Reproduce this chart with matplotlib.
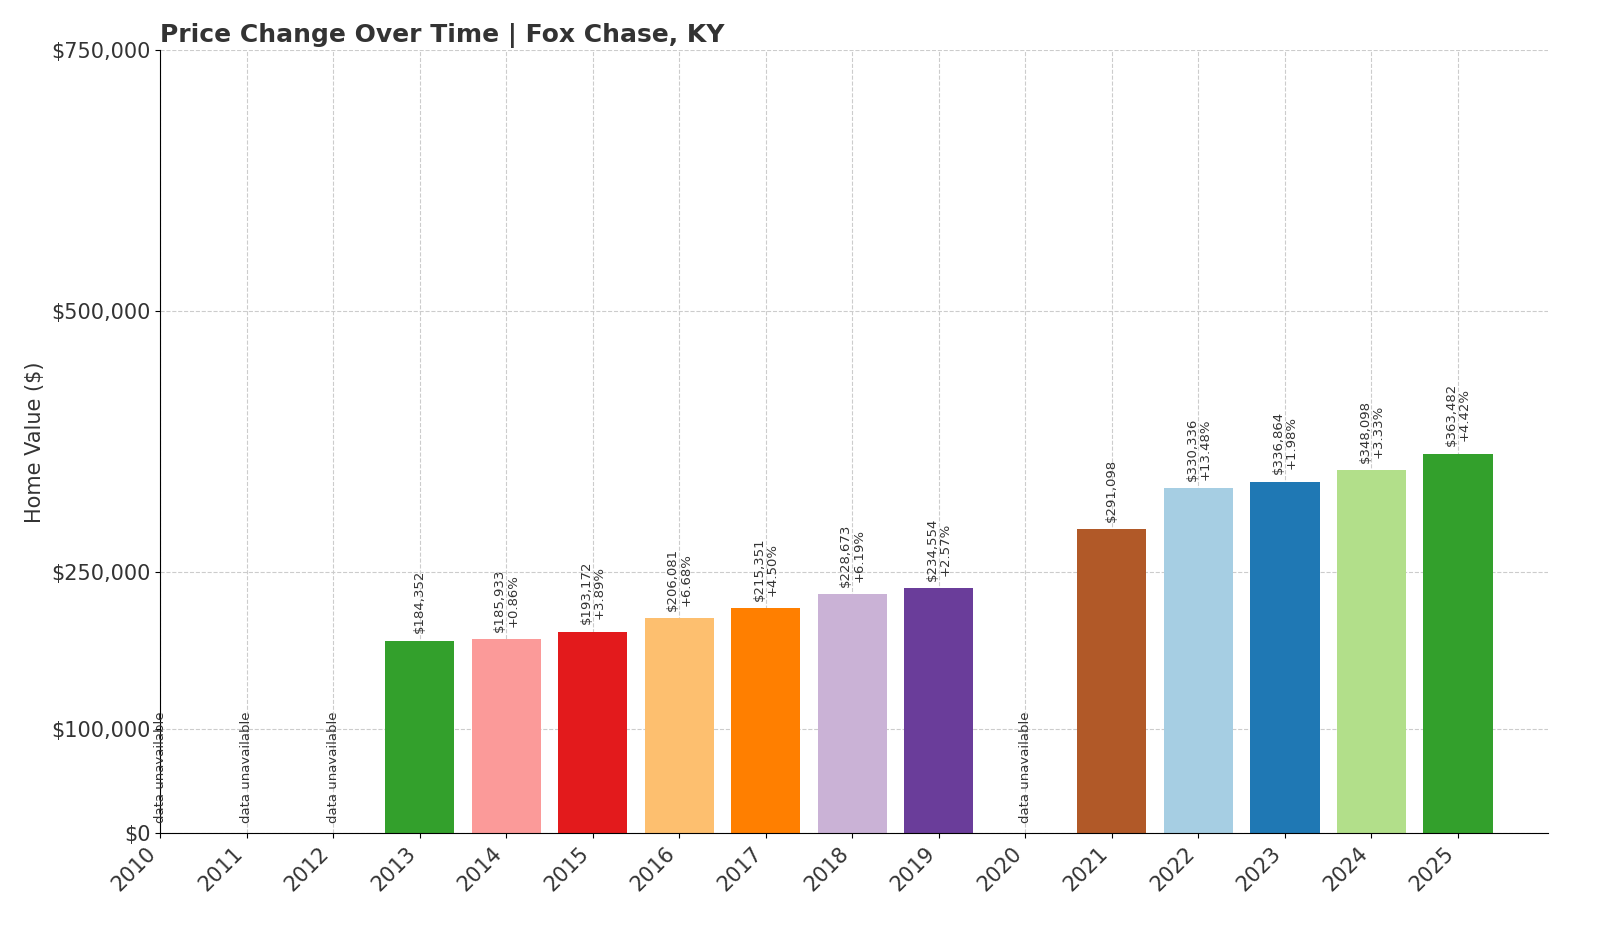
import matplotlib
matplotlib.use("Agg")
import matplotlib.pyplot as plt
import numpy as np

years = list(range(2010, 2026))
values = [None, None, None, 184352, 185933, 193172, 206081, 215351, 228673, 234554,
          None, 291098, 330336, 336864, 348098, 363482]
changes = [None, None, None, None, "+0.86%", "+3.89%", "+6.68%", "+4.50%", "+6.19%", "+2.57%",
           None, None, "+13.48%", "+1.98%", "+3.33%", "+4.42%"]
yticks = [0, 100000, 250000, 500000, 750000]

paired = plt.get_cmap("Paired").colors
fig = plt.figure(figsize=(16, 9.33), dpi=100)
ax = fig.add_axes([0.1, 0.107, 0.8675, 0.839])
for i, (y, v, c) in enumerate(zip(years, values, changes)):
    if v is None:
        ax.text(i, 10000, "data unavailable", rotation=90, ha="center", va="bottom",
                fontsize=9.5, color="#333333")
        continue
    ax.bar(i, v, width=0.8, color=paired[i % 12], zorder=2)
    lbl = f"${v:,}" + (f"\n{c}" if c else "")
    ax.text(i, v + 7000, lbl, rotation=90, ha="center", va="bottom", fontsize=9.5,
            color="#333333", linespacing=1.0)
ax.set_xlim(0, 16.04)
ax.set_ylim(0, 750000)
ax.set_xticks(range(len(years)))
ax.set_xticklabels([str(y) for y in years], rotation=45, ha="right", fontsize=15,
                   color="#333333")
ax.set_yticks(yticks)
ax.set_yticklabels([f"${t:,}" for t in yticks], fontsize=15, color="#333333")
ax.grid(True, linestyle="--", color="#cccccc", linewidth=0.8, zorder=0)
ax.set_axisbelow(True)
for s in ["top", "right"]:
    ax.spines[s].set_visible(False)
ax.set_ylabel("Home Value ($)", fontsize=15, color="#333333")
ax.set_title("Price Change Over Time | Fox Chase, KY", loc="left", fontsize=18,
             fontweight="bold", color="#333333")
fig.savefig("out.png", dpi=100)
